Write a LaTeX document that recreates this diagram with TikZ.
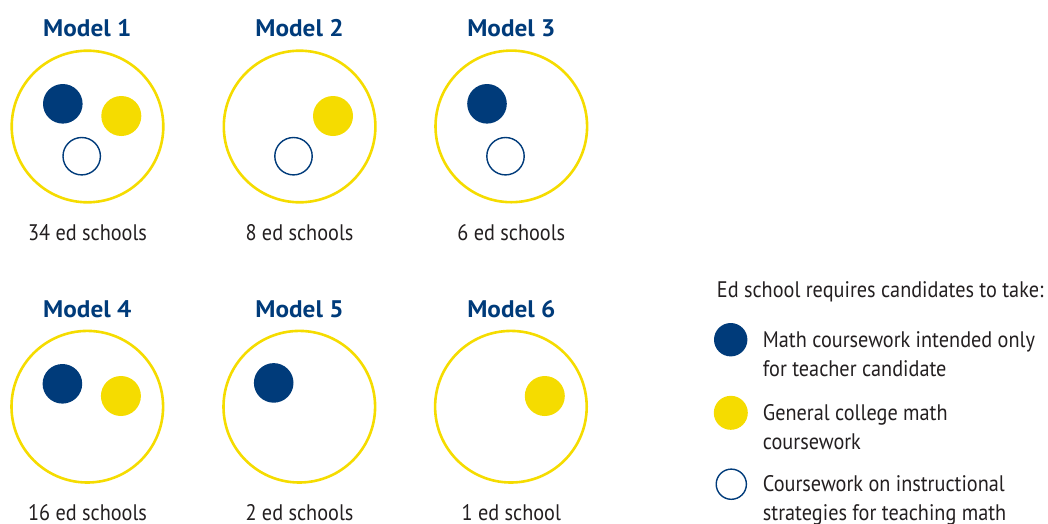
\documentclass[tikz,border=0pt]{standalone}
\usepackage{fontspec}
\setmainfont[FakeStretch=0.9,BoldFeatures={FakeStretch=1.05}]{PT Sans}
\definecolor{navy}{RGB}{0,59,122}
\definecolor{ylw}{RGB}{245,220,0}
\definecolor{txt}{RGB}{35,31,32}
\tikzset{
  ring/.style={draw=ylw, line width=2.6pt, circle, minimum size=151.6pt, inner sep=0pt},
  bluedot/.style={fill=navy, circle, minimum size=39.6pt, inner sep=0pt},
  ylwdot/.style={fill=ylw, circle, minimum size=40pt, inner sep=0pt},
  opendot/.style={draw=navy, line width=1.4pt, circle, minimum size=37.4pt, inner sep=0pt},
  ttl/.style={anchor=base, text=navy, font=\fontsize{24}{28}\selectfont\bfseries, inner sep=0pt},
  lbl/.style={anchor=base, text=txt, font=\fontsize{22.5}{26}\selectfont, inner sep=0pt},
  legtxt/.style={anchor=base west, text=txt, align=left, font=\fontsize{22.5}{29}\selectfont, inner sep=0pt},
  lblue/.style={fill=navy, circle, minimum size=33.4pt, inner sep=0pt},
  lylw/.style={fill=ylw, circle, minimum size=34pt, inner sep=0pt},
  lopen/.style={draw=navy, line width=1.4pt, circle, minimum size=30.2pt, inner sep=0pt},
}
\begin{document}
\begin{tikzpicture}[x=1pt,y=-1pt]
\useasboundingbox (0,0) rectangle (1048,523);
% Row 1
\node[ttl] (t1) at (87.3,36.7) {Model 1};
\node[ttl] (t2) at (299.5,36.7) {Model 2};
\node[ttl] (t3) at (511.4,36.7) {Model 3};
\node[ring] (c1) at (87.5,126.5) {};
\node[ring] (c2) at (299.6,126.5) {};
\node[ring] (c3) at (511.3,126.4) {};
\node[bluedot] (b1) at (62.8,103.8) {};
\node[ylwdot] (y1) at (121.3,116) {};
\node[opendot] (o1) at (81.7,156.2) {};
\node[ylwdot] (y2) at (333,116) {};
\node[opendot] (o2) at (293.5,156.2) {};
\node[bluedot] (b3) at (487,103.8) {};
\node[opendot] (o3) at (505.5,156.2) {};
\node[lbl] (l1) at (87.5,240.7) {34 ed schools};
\node[lbl] (l2) at (299.5,240.7) {8 ed schools};
\node[lbl] (l3) at (511.3,240.7) {6 ed schools};
% Row 2
\node[ttl] (t4) at (87.3,317.3) {Model 4};
\node[ttl] (t5) at (299.5,317.3) {Model 5};
\node[ttl] (t6) at (511.4,317.3) {Model 6};
\node[ring] (c4) at (87.3,406.7) {};
\node[ring] (c5) at (299.3,406.7) {};
\node[ring] (c6) at (510.9,406.7) {};
\node[bluedot] (b4) at (62.4,383.8) {};
\node[ylwdot] (y4) at (120.9,396) {};
\node[bluedot] (b5) at (273.7,382.9) {};
\node[ylwdot] (y6) at (544.8,396) {};
\node[lbl] (l4) at (87.5,520.5) {16 ed schools};
\node[lbl] (l5) at (299.5,520.5) {2 ed schools};
\node[lbl] (l6) at (511.3,520.5) {1 ed school};
% Legend
\node[legtxt] (lh) at (716.7,297.3) {Ed school requires candidates to take:};
\node[lblue] (lb) at (730.7,339.7) {};
\node[lylw] (ly) at (730.8,412.8) {};
\node[lopen] (lo) at (731.3,484.2) {};
\node[legtxt] (lbt) at (762.7,376.3) {Math coursework intended only\\for teacher candidate};
\node[legtxt] (lyt) at (762.7,449) {General college math\\coursework};
\node[legtxt] (lot) at (762.7,520.7) {Coursework on instructional\\strategies for teaching math};
\end{tikzpicture}
\end{document}
